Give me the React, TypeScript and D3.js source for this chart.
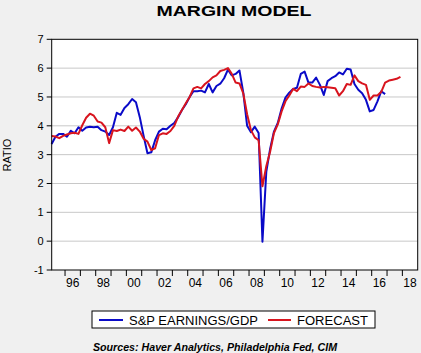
import React from 'react';
import * as d3 from 'd3';

// quarterly series, first point at 1995.125
const startYear = 1995.125;
const earnings = [
  3.37, 3.62, 3.72, 3.72, 3.62, 3.83, 3.74, 3.95, 3.83, 3.94, 3.97, 3.95, 3.97, 3.85, 3.8, 3.68,
  3.95, 4.45, 4.38, 4.62, 4.75, 4.93, 4.82, 4.3, 3.65, 3.05, 3.08, 3.5, 3.8, 3.9, 3.88, 4.0,
  4.1, 4.3, 4.55, 4.75, 5.0, 5.2, 5.2, 5.22, 5.16, 5.45, 5.16, 5.38, 5.46, 5.65, 5.95, 5.75,
  5.8, 5.92, 5.15, 4.0, 3.78, 3.97, 3.75, -0.02, 2.4, 3.2, 3.8, 4.1, 4.6, 4.98, 5.15, 5.28,
  5.32, 5.8, 5.88, 5.5, 5.5, 5.67, 5.42, 5.07, 5.55, 5.65, 5.72, 5.85, 5.78, 5.98, 5.95, 5.45,
  5.25, 5.13, 4.9, 4.5, 4.55, 4.85, 5.2, 5.1,
];
const forecast = [
  3.65, 3.63, 3.57, 3.65, 3.7, 3.74, 3.76, 3.72, 4.02, 4.28, 4.42, 4.35, 4.15, 4.11, 3.95, 3.4,
  3.85, 3.82, 3.87, 3.82, 3.97, 3.83, 3.94, 3.8, 3.55, 3.45, 3.16, 3.22, 3.68, 3.74, 3.72, 3.82,
  4.0, 4.32, 4.55, 4.78, 5.0, 5.3, 5.35, 5.3, 5.45, 5.55, 5.68, 5.75, 5.9, 5.94, 6.0, 5.8,
  5.5, 5.47, 5.12, 4.4, 3.85, 3.6, 3.5, 1.9, 2.6, 3.1, 3.75, 4.05, 4.5, 4.85, 5.05, 5.28,
  5.2, 5.36, 5.35, 5.47, 5.38, 5.35, 5.33, 5.35, 5.34, 5.32, 5.3, 5.05, 5.2, 5.45, 5.42, 5.75,
  5.55, 5.47, 5.42, 4.9, 5.05, 5.05, 5.18, 5.5, 5.57, 5.6, 5.63, 5.7,
];
const yTicks = [-1, 0, 1, 2, 3, 4, 5, 6, 7];
const yearTicks = d3.range(1996, 2019);
const yearLabels = [1996, 1998, 2000, 2002, 2004, 2006, 2008, 2010, 2012, 2014, 2016, 2018];

const W = 421;
const H = 353;
const plot = { left: 51.7, right: 417.7, top: 39.3, bottom: 270 };
const font = 'Arial, "Liberation Sans", sans-serif';

export default function App() {
  const x = d3.scaleLinear().domain([1995.13, 2019]).range([plot.left, plot.right]);
  const y = d3.scaleLinear().domain([-1, 7]).range([plot.bottom, plot.top]);

  const line = d3
    .line<number>()
    .x((_, i) => x(startYear + i * 0.25))
    .y(d => y(d));

  return (
    <svg width={W} height={H} style={{ position: 'absolute', left: 0, top: 0, background: '#f0f0f0' }} fontFamily={font}>
      <text x={234} y={16} textAnchor="middle" fontSize={15} fontWeight="bold" textLength={155} lengthAdjust="spacingAndGlyphs">
        MARGIN MODEL
      </text>

      <rect x={plot.left} y={plot.top} width={plot.right - plot.left} height={plot.bottom - plot.top} fill="#fff" />
      {yTicks.slice(1, -1).map(t => (
        <line key={t} x1={plot.left} x2={plot.right} y1={y(t)} y2={y(t)} stroke="#c8c8c8" />
      ))}

      <path d={line(earnings) ?? ''} fill="none" stroke="#0a0ac8" strokeWidth={2} strokeLinejoin="round" />
      <path d={line(forecast) ?? ''} fill="none" stroke="#d8141e" strokeWidth={2} strokeLinejoin="round" />

      <rect x={plot.left} y={plot.top} width={plot.right - plot.left} height={plot.bottom - plot.top} fill="none" stroke="#000" />

      {yTicks.map(t => (
        <g key={t}>
          <line x1={plot.left - 5} x2={plot.left} y1={y(t)} y2={y(t)} stroke="#000" />
          <text x={plot.left - 8} y={y(t) + 4} textAnchor="end" fontSize={11}>{t}</text>
        </g>
      ))}
      {yearTicks.map(t => (
        <line key={t} x1={x(t)} x2={x(t)} y1={plot.bottom} y2={plot.bottom + 6} stroke="#000" />
      ))}
      {yearLabels.map(t => (
        <text key={t} x={x(t + 0.5)} y={287} textAnchor="middle" fontSize={12}>
          {String(t % 100).padStart(2, '0')}
        </text>
      ))}

      <text transform="translate(11,155) rotate(-90)" textAnchor="middle" fontSize={11}>RATIO</text>

      <rect x={92} y={311} width={283} height={17} fill="#fff" stroke="#000" />
      <line x1={99} x2={123} y1={320} y2={320} stroke="#0a0ac8" strokeWidth={2} />
      <text x={129} y={324.5} fontSize={12.5} textLength={129} lengthAdjust="spacingAndGlyphs">S&amp;P EARNINGS/GDP</text>
      <line x1={268} x2={291} y1={320} y2={320} stroke="#d8141e" strokeWidth={2} />
      <text x={297} y={324.5} fontSize={12.5} textLength={71} lengthAdjust="spacingAndGlyphs">FORECAST</text>

      <text x={93} y={351} fontSize={10} fontWeight="bold" fontStyle="italic" textLength={244} lengthAdjust="spacingAndGlyphs">
        Sources:  Haver Analytics, Philadelphia Fed, CIM
      </text>
    </svg>
  );
}
